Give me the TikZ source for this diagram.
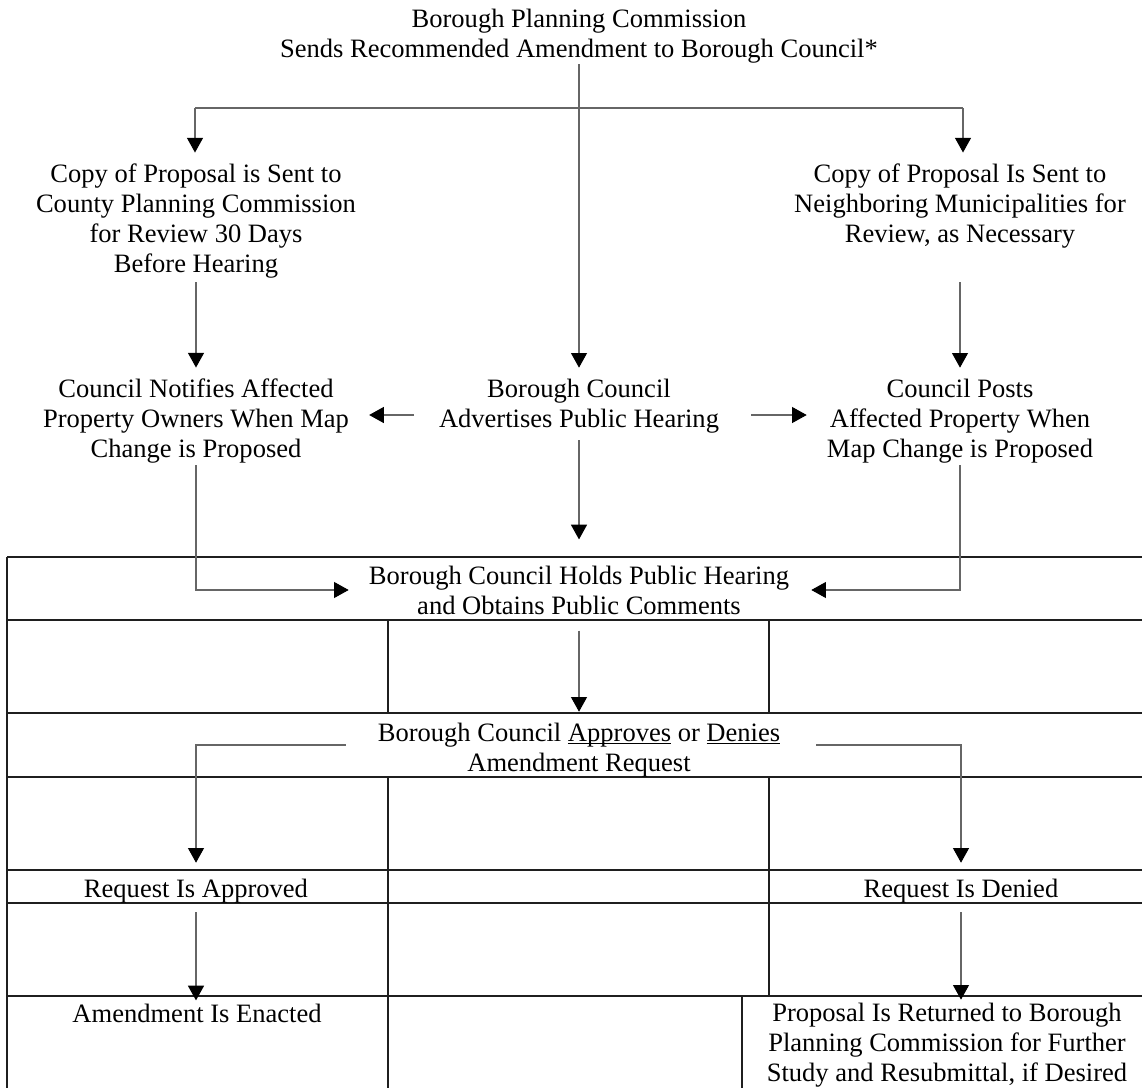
\documentclass[tikz,border=0pt]{standalone}
\usepackage{fontspec}
\setmainfont{Liberation Serif}
\usetikzlibrary{arrows.meta}
\newcommand\ulfix[1]{\underline{\smash{#1}}}
\begin{document}
\begin{tikzpicture}[x=0.75pt,y=-0.75pt,
  txt/.style={inner sep=0pt,align=center,font=\fontsize{19.9pt}{22.5pt}\selectfont},
  conn/.style={draw=black!60,line width=0.8pt},
  arr/.style={conn,-{Triangle[width=12pt,length=11pt,color=black,fill=black]}},
  grid/.style={draw=black!88,line width=1pt}]
\useasboundingbox (0,0) rectangle (1142,1088);
% table grid
\draw[grid] (7,557) -- (1142,557);
\draw[grid] (7,620) -- (1142,620);
\draw[grid] (7,713) -- (1142,713);
\draw[grid] (7,777) -- (1142,777);
\draw[grid] (7,870) -- (1142,870);
\draw[grid] (7,903) -- (1142,903);
\draw[grid] (7,996) -- (1142,996);
\draw[grid] (7,557) -- (7,1088);
\draw[grid] (388,620) -- (388,713);
\draw[grid] (769,620) -- (769,713);
\draw[grid] (388,777) -- (388,1088);
\draw[grid] (769,777) -- (769,996);
\draw[grid] (742,996) -- (742,1088);
% nodes
\node[txt] (top) at (579,36) {Borough Planning Commission\\Sends Recommended Amendment to Borough Council*};
\node[txt] (copyL) at (196,221) {Copy of Proposal is Sent to\\County Planning Commission\\for Review 30 Days\\Before Hearing};
\node[txt] (copyR) at (960,206) {Copy of Proposal Is Sent to\\Neighboring Municipalities for\\Review, as Necessary};
\node[txt] (notify) at (196,421) {Council Notifies Affected\\Property Owners When Map\\Change is Proposed};
\node[txt] (adv) at (579,406) {Borough Council\\Advertises Public Hearing};
\node[txt] (posts) at (960,421) {Council Posts\\Affected Property When\\Map Change is Proposed};
\node[txt] (hold) at (579,590) {Borough Council Holds Public Hearing\\and Obtains Public Comments};
\node[txt] (decide) at (579,750) {Borough Council \ulfix{Approves} or \ulfix{Denies}\\Amendment Request};
\node[txt] (approved) at (196,891) {Request Is Approved};
\node[txt] (denied) at (961,891) {Request Is Denied};
\node[txt] (enacted) at (197,1013) {Amendment Is Enacted};
\node[txt] (returned) at (947,1045) {Proposal Is Returned to Borough\\Planning Commission for Further\\Study and Resubmittal, if Desired};
% junction
\coordinate (jl) at (195,108);
\coordinate (jr) at (963,108);
% connectors
\draw[arr,shorten <=0.75pt,shorten >=8.25pt] (top.south) -- (adv.north);
\draw[conn] (jl) -- (jr);
\draw[arr,shorten >=8.25pt] (jl) -- (jl |- copyL.north);
\draw[arr,shorten >=8.25pt] (jr) -- (jr |- copyR.north);
\draw[arr,shorten <=3pt,shorten >=8.25pt] (copyL.south) -- (notify.north);
\draw[arr,shorten <=25.5pt,shorten >=8.25pt] (copyR.south) -- (posts.north);
\draw[arr,shorten <=18.4pt,shorten >=15pt] ([yshift=-6.75pt]adv.west) -- ([yshift=-6.75pt]adv.west -| notify.east);
\draw[arr,shorten <=24pt,shorten >=15pt] ([yshift=-6.75pt]adv.east) -- ([yshift=-6.75pt]adv.east -| posts.west);
\draw[arr,shorten <=5.25pt,shorten >=19.5pt] (adv.south) -- (hold.north);
\draw[arr,shorten <=1.5pt,shorten >=15pt] (notify.south) |- (hold.west);
\draw[arr,shorten <=1.5pt,shorten >=16.5pt] (posts.south) |- (hold.east);
\draw[arr,shorten <=12pt,shorten >=8.25pt] (hold.south) -- (decide.north);
\draw[arr,shorten <=24pt,shorten >=12pt] ([yshift=3.75pt]decide.west) -| (approved.north);
\draw[arr,shorten <=27pt,shorten >=12pt] ([yshift=3.75pt]decide.east) -| (denied.north);
\draw[arr,shorten <=6.75pt,shorten >=2.25pt] (approved.south) -- (approved.south |- enacted.north);
\draw[arr,shorten <=6.75pt,shorten >=2.25pt] (denied.south) -- (denied.south |- returned.north);
\end{tikzpicture}
\end{document}
